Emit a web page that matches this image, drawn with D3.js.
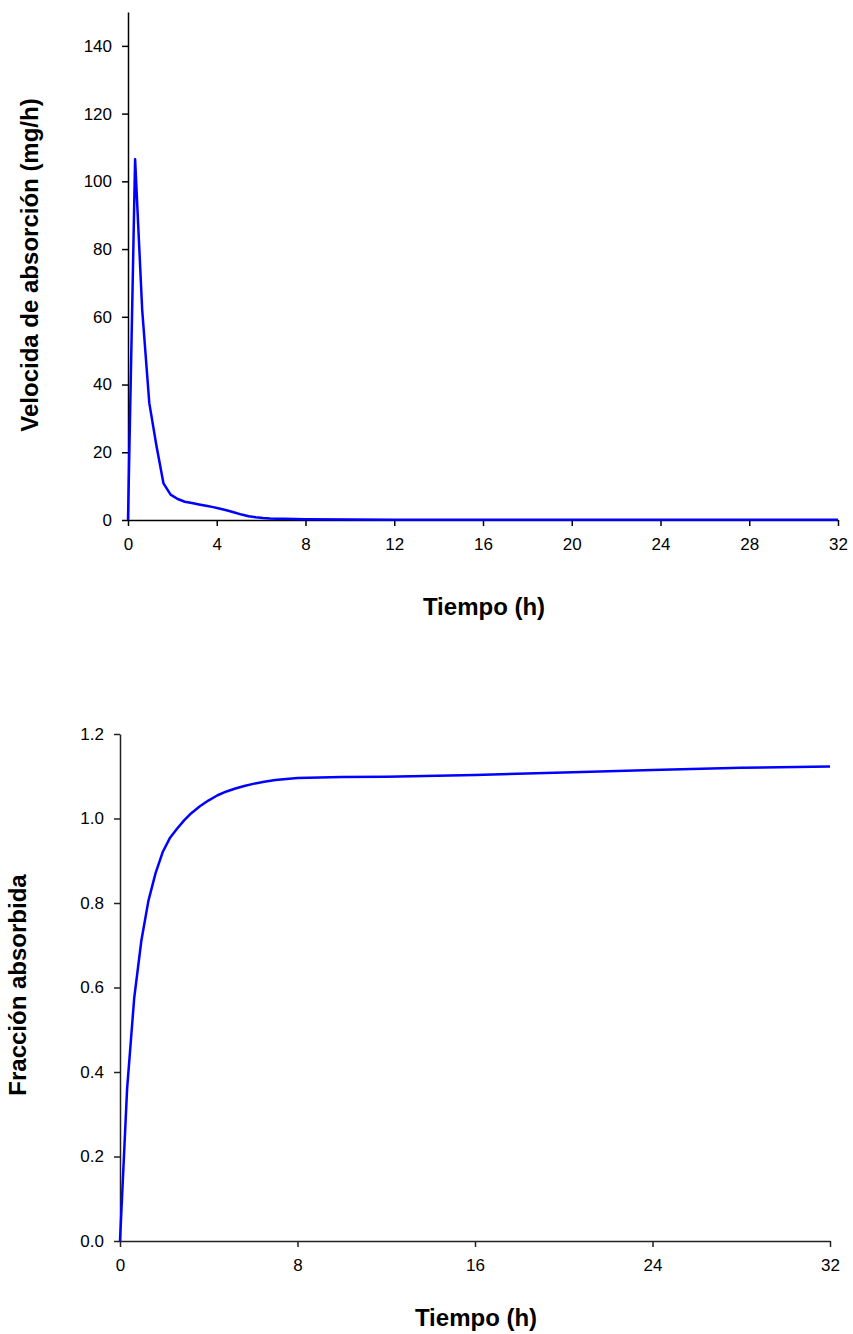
<!DOCTYPE html>
<html>
<head>
<meta charset="utf-8">
<script src="https://cdn.jsdelivr.net/npm/d3@7"></script>
<style>
  html, body { margin: 0; padding: 0; background: #fff; }
  svg { display: block; font-family: "Liberation Sans", Arial, sans-serif; }
</style>
</head>
<body>
<svg id="chart" width="853" height="1334"></svg>
<script>
// Absorption rate (mg/h) over time (h)
const rateTime = [0, 0.32, 0.64, 0.96, 1.28, 1.6, 1.92, 2.24, 2.56, 2.88, 3.2, 3.52, 3.84, 4.16, 4.48, 4.8, 5.12, 5.44, 5.76, 6.08, 6.4, 6.72, 7.04, 8, 10, 12, 16, 20, 24, 28, 32];
const rateValue = [0, 106.5, 62, 34.5, 22, 10.8, 7.5, 6.2, 5.4, 5.0, 4.6, 4.2, 3.8, 3.3, 2.8, 2.2, 1.6, 1.1, 0.8, 0.6, 0.45, 0.4, 0.35, 0.25, 0.15, 0.1, 0.1, 0.1, 0.1, 0.1, 0.05];
const rateXTicks = [0, 4, 8, 12, 16, 20, 24, 28, 32];
const rateYTicks = [0, 20, 40, 60, 80, 100, 120, 140];

// Cumulative fraction absorbed over time (h)
const fracTime = [0, 0.32, 0.64, 0.96, 1.28, 1.6, 1.92, 2.24, 2.56, 2.88, 3.2, 3.6, 4.0, 4.4, 4.8, 5.2, 5.6, 6.0, 6.5, 7.0, 8, 10, 12, 16, 20, 24, 28, 32];
const fracValue = [0, 0.36, 0.575, 0.71, 0.805, 0.87, 0.92, 0.953, 0.975, 0.995, 1.012, 1.029, 1.043, 1.055, 1.064, 1.071, 1.077, 1.082, 1.087, 1.091, 1.096, 1.098, 1.099, 1.103, 1.109, 1.115, 1.12, 1.123];
const fracXTicks = [0, 8, 16, 24, 32];
const fracYTicks = [0, 0.2, 0.4, 0.6, 0.8, 1.0, 1.2];

const svg = d3.select("#chart");

function drawPanel(cfg) {
  const x = d3.scaleLinear().domain(cfg.xDomain).range([cfg.left, cfg.right]);
  const y = d3.scaleLinear().domain(cfg.yDomain).range([cfg.bottom, cfg.top]);
  const g = svg.append("g");

  const xAxis = g.append("g")
    .attr("transform", `translate(0,${cfg.bottom})`)
    .call(d3.axisBottom(x).tickValues(cfg.xTicks).tickSize(6).tickPadding(12).tickSizeOuter(0).tickFormat(d3.format("d")));
  const yAxis = g.append("g")
    .attr("transform", `translate(${cfg.left},0)`)
    .call(d3.axisLeft(y).tickValues(cfg.yTicks).tickSize(6).tickPadding(10).tickSizeOuter(0).tickFormat(cfg.yFormat));

  [xAxis, yAxis].forEach(a => {
    a.select(".domain").attr("stroke", cfg.axisColor).attr("stroke-width", 1.5);
    a.selectAll(".tick line").attr("stroke", cfg.axisColor).attr("stroke-width", 1.5);
    a.selectAll(".tick text").attr("fill", "#000").style("font-size", "17px")
      .style("font-family", "'Liberation Sans', Arial, sans-serif");
  });

  const line = d3.line().x((d, i) => x(cfg.xs[i])).y(d => y(d));
  g.append("path")
    .datum(cfg.ys)
    .attr("fill", "none")
    .attr("stroke", "#0000ff")
    .attr("stroke-width", 2.5)
    .attr("stroke-linejoin", "round")
    .attr("d", line);

  g.append("text")
    .attr("x", cfg.xTitlePos[0]).attr("y", cfg.xTitlePos[1])
    .attr("text-anchor", "middle")
    .style("font-size", "24px").style("font-weight", "bold")
    .text(cfg.xTitle);

  g.append("text")
    .attr("transform", `translate(${cfg.yTitlePos[0]},${cfg.yTitlePos[1]}) rotate(-90)`)
    .attr("text-anchor", "middle")
    .style("font-size", "24px").style("font-weight", "bold")
    .text(cfg.yTitle);
}

drawPanel({
  xs: rateTime, ys: rateValue,
  xDomain: [0, 32], yDomain: [0, 150],
  left: 128, right: 838, top: 12, bottom: 520,
  xTicks: rateXTicks, yTicks: rateYTicks,
  yFormat: d3.format("d"),
  axisColor: "#000",
  xTitle: "Tiempo (h)", xTitlePos: [484, 615],
  yTitle: "Velocida de absorción (mg/h)", yTitlePos: [38, 265]
});

drawPanel({
  xs: fracTime, ys: fracValue,
  xDomain: [0, 32], yDomain: [0, 1.2],
  left: 120, right: 830, top: 734, bottom: 1241,
  xTicks: fracXTicks, yTicks: fracYTicks,
  yFormat: d3.format(".1f"),
  axisColor: "#222",
  xTitle: "Tiempo (h)", xTitlePos: [476, 1326],
  yTitle: "Fracción absorbida", yTitlePos: [26, 985]
});
</script>
</body>
</html>
